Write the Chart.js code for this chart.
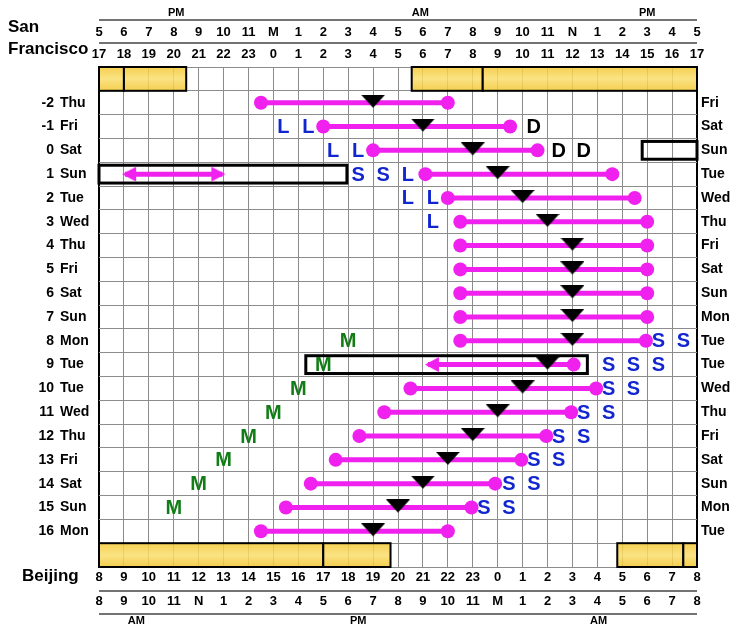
<!DOCTYPE html>
<html>
<head>
<meta charset="utf-8">
<title>Jet lag plan San Francisco - Beijing</title>
<script src="https://cdn.jsdelivr.net/npm/chart.js@4.4.1/dist/chart.umd.min.js"></script>
<style>
  html, body { margin: 0; padding: 0; background: #fff; }
  #wrap { width: 739px; height: 634px; }
</style>
</head>
<body>
<div id="wrap"><canvas id="chart"></canvas></div>
<script>
// x = hours after 5 PM San Francisco (= 8 AM Beijing)
const sfClock12 = ['5','6','7','8','9','10','11','M','1','2','3','4','5','6','7','8','9','10','11','N','1','2','3','4','5'];
const sfClock24 = ['17','18','19','20','21','22','23','0','1','2','3','4','5','6','7','8','9','10','11','12','13','14','15','16','17'];
const bjClock24 = ['8','9','10','11','12','13','14','15','16','17','18','19','20','21','22','23','0','1','2','3','4','5','6','7','8'];
const bjClock12 = ['8','9','10','11','N','1','2','3','4','5','6','7','8','9','10','11','M','1','2','3','4','5','6','7','8'];
const sfHalfDay = ['PM', 'AM', 'PM'];
const sfHalfDayAt = [3.1, 12.9, 22.0];
const bjHalfDay = ['AM', 'PM', 'AM'];
const bjHalfDayAt = [1.5, 10.4, 20.05];

// one row per day
const dayNums = ['-2','-1','0','1','2','3','4','5','6','7','8','9','10','11','12','13','14','15','16'];
const sfDays = ['Thu','Fri','Sat','Sun','Tue','Wed','Thu','Fri','Sat','Sun','Mon','Tue','Tue','Wed','Thu','Fri','Sat','Sun','Mon'];
const bjDays = ['Fri','Sat','Sun','Tue','Wed','Thu','Fri','Sat','Sun','Mon','Tue','Tue','Wed','Thu','Fri','Sat','Sun','Mon','Tue'];
const wakeFrom = [6.5, 9.0, 11.0, 13.1, 14.0, 14.5, 14.5, 14.5, 14.5, 14.5, 14.5, 13.2, 12.5, 11.45, 10.45, 9.5, 8.5, 7.5, 6.5];
const wakeTo = [14.0, 16.5, 17.6, 20.6, 21.5, 22.0, 22.0, 22.0, 22.0, 22.0, 21.95, 19.05, 19.95, 18.95, 17.95, 16.95, 15.9, 14.95, 14.0];
const tempMin = [11, 13, 15, 16, 17, 18, 19, 19, 19, 19, 19, 18, 17, 16, 15, 14, 13, 12, 11];
const shiftedDay = 9;             // that row starts with an arrow, not a dot

// letter marks: [day, hour]
const lightL = [[-1, 7.4], [-1, 8.4], [0, 9.4], [0, 10.4], [1, 12.4], [2, 12.4], [2, 13.4], [3, 13.4]];
const darkD = [[-1, 17.45], [0, 18.45], [0, 19.45]];
const sleepS = [[1, 10.4], [1, 11.4], [8, 22.45], [8, 23.45], [9, 20.45], [9, 21.45], [9, 22.45],
  [10, 20.45], [10, 21.45], [11, 19.45], [11, 20.45], [12, 18.45], [12, 19.45], [13, 17.45], [13, 18.45],
  [14, 16.45], [14, 17.45], [15, 15.45], [15, 16.45]];
const melatoninM = [[8, 10], [9, 9], [10, 8], [11, 7], [12, 6], [13, 5], [14, 4], [15, 3]];

// daylight bands [from, to] and flight boxes [day, from, to]
const sfLight = [[0, 1], [1, 3.5], [12.55, 15.4], [15.4, 24]];
const bjLight = [[0, 9], [9, 11.7], [20.8, 23.45], [23.45, 24]];
const flightBoxes = [[0, 21.8, 24], [1, 0, 9.95], [9, 8.3, 19.6]];
const dateLineArrow = [1, 1.05, 4.95];

const PINK = '#f020ee';
const BLUE = '#1226d0';
const GREEN = '#127c16';
const FONT = '"Liberation Sans", Arial, sans-serif';

const rowOf = d => Number(d) + 3.5;

function makeTriangle() {
  const c = document.createElement('canvas');
  c.width = 24; c.height = 16;
  const g = c.getContext('2d');
  g.fillStyle = '#000';
  g.beginPath(); g.moveTo(0, 0); g.lineTo(24, 0); g.lineTo(12, 13); g.closePath(); g.fill();
  return c;
}

function makeArrowHead(left, len, half) {
  // canvas centre sits 3px behind the tip
  const c = document.createElement('canvas');
  c.width = (len + 3) * 2; c.height = half * 2 + 2;
  const g = c.getContext('2d');
  const cx = len + 3, cy = half + 1;
  g.fillStyle = PINK;
  g.beginPath();
  if (left) {
    g.moveTo(cx - 3, cy); g.lineTo(cx - 3 + len, cy - half); g.lineTo(cx - 3 + len, cy + half);
  } else {
    g.moveTo(cx + 3, cy); g.lineTo(cx + 3 - len, cy - half); g.lineTo(cx + 3 - len, cy + half);
  }
  g.closePath(); g.fill();
  return c;
}

const tri = makeTriangle();
const headL = makeArrowHead(true, 14, 7.5);
const headR = makeArrowHead(false, 14, 7.5);

const datasets = [];
datasets.push({
  label: 'temperature minimum',
  data: tempMin.map((x, i) => ({ x: x, y: rowOf(dayNums[i]) })),
  pointStyle: tri, pointRadius: 8, order: 0
});
dayNums.forEach((d, i) => {
  const arrow = Number(d) === shiftedDay;
  datasets.push({
    label: 'awake ' + d,
    data: [{ x: wakeFrom[i], y: rowOf(d) }, { x: wakeTo[i], y: rowOf(d) }],
    showLine: true,
    borderColor: PINK, borderWidth: 5,
    pointStyle: arrow ? [headL, 'circle'] : 'circle',
    pointRadius: 7, pointBackgroundColor: PINK, pointBorderWidth: 0,
    order: 1
  });
});
datasets.push({
  label: 'date line',
  data: [{ x: dateLineArrow[1], y: rowOf(dateLineArrow[0]) }, { x: dateLineArrow[2], y: rowOf(dateLineArrow[0]) }],
  showLine: true, borderColor: PINK, borderWidth: 5,
  pointStyle: [headL, headR], pointRadius: 7, order: 1
});

function drawMarks(ctx, x, y, list, text, color) {
  ctx.fillStyle = color;
  list.forEach(([d, h]) => ctx.fillText(text, x.getPixelForValue(h), y.getPixelForValue(rowOf(d)) + 1));
}

const overlay = {
  id: 'overlay',
  beforeDatasetsDraw(chart) {
    const { ctx, scales: { x, y } } = chart;
    ctx.save();
    const band = (list, row) => {
      const top = y.getPixelForValue(row), bot = y.getPixelForValue(row + 1);
      list.forEach(([a, b]) => {
        const l = x.getPixelForValue(a), r = x.getPixelForValue(b);
        const grad = ctx.createLinearGradient(0, top, 0, bot);
        grad.addColorStop(0, 'rgba(244,200,50,0.85)');
        grad.addColorStop(0.5, 'rgba(250,222,110,0.85)');
        grad.addColorStop(1, 'rgba(242,198,48,0.85)');
        ctx.fillStyle = grad;
        ctx.fillRect(l, top, r - l, bot - top);
        ctx.strokeStyle = '#000';
        ctx.lineWidth = 2;
        ctx.strokeRect(l, top, r - l, bot - top);
      });
    };
    band(sfLight, 0);
    band(bjLight, 20);
    ctx.strokeStyle = '#000';
    ctx.lineWidth = 3;
    flightBoxes.forEach(([d, a, b]) => {
      const top = y.getPixelForValue(rowOf(d) - 0.5) + 3;
      const bot = y.getPixelForValue(rowOf(d) + 0.5) - 3;
      const l = x.getPixelForValue(a), r = x.getPixelForValue(b);
      ctx.strokeRect(l, top, r - l, bot - top);
    });
    ctx.restore();
  },
  afterDatasetsDraw(chart) {
    const { ctx, scales: { x, y } } = chart;
    ctx.save();
    ctx.font = 'bold 20px ' + FONT;
    ctx.textAlign = 'center';
    ctx.textBaseline = 'middle';
    drawMarks(ctx, x, y, lightL, 'L', BLUE);
    drawMarks(ctx, x, y, darkD, 'D', '#000');
    drawMarks(ctx, x, y, sleepS, 'S', BLUE);
    drawMarks(ctx, x, y, melatoninM, 'M', GREEN);
    ctx.restore();
  },
  afterDraw(chart) {
    const { ctx, chartArea, scales: { x, y } } = chart;
    ctx.save();
    ctx.fillStyle = '#000';
    ctx.textBaseline = 'middle';

    // city names
    ctx.font = 'bold 17px ' + FONT;
    ctx.textAlign = 'left';
    ctx.fillText('San', 8, 27);
    ctx.fillText('Francisco', 8, 49);
    ctx.fillText('Beijing', 22, 576);

    // hour rows
    ctx.font = 'bold 13px ' + FONT;
    ctx.textAlign = 'center';
    for (let i = 0; i <= 24; i++) {
      const px = x.getPixelForValue(i);
      ctx.fillText(sfClock12[i], px, 32);
      ctx.fillText(sfClock24[i], px, 54);
      ctx.fillText(bjClock24[i], px, 577);
      ctx.fillText(bjClock12[i], px, 601);
    }
    ctx.font = 'bold 11px ' + FONT;
    sfHalfDay.forEach((t, i) => ctx.fillText(t, x.getPixelForValue(sfHalfDayAt[i]), 13));
    bjHalfDay.forEach((t, i) => ctx.fillText(t, x.getPixelForValue(bjHalfDayAt[i]), 621));

    ctx.strokeStyle = '#444';
    ctx.lineWidth = 1.5;
    [20, 43, 591, 614].forEach(py => {
      ctx.beginPath();
      ctx.moveTo(chartArea.left, py);
      ctx.lineTo(chartArea.right, py);
      ctx.stroke();
    });

    // day rows
    ctx.font = 'bold 14px ' + FONT;
    dayNums.forEach((d, i) => {
      const py = y.getPixelForValue(rowOf(d));
      ctx.textAlign = 'right';
      ctx.fillText(d, 54, py);
      ctx.textAlign = 'left';
      ctx.fillText(sfDays[i], 60, py);
      ctx.fillText(bjDays[i], chartArea.right + 4, py);
    });
    ctx.restore();
  }
};

new Chart(document.getElementById('chart'), {
  type: 'scatter',
  data: { datasets: datasets },
  options: {
    responsive: true,
    maintainAspectRatio: false,
    animation: false,
    events: [],
    layout: { padding: { left: 99, right: 42, top: 67, bottom: 67 } },
    plugins: { legend: { display: false }, tooltip: { enabled: false } },
    scales: {
      x: {
        type: 'linear', min: 0, max: 24,
        ticks: { display: false, stepSize: 1 },
        border: { display: false },
        grid: {
          drawTicks: false,
          color: c => (c.tick.value === 0 || c.tick.value === 24) ? '#000' : '#8c8c8c',
          lineWidth: c => (c.tick.value === 0 || c.tick.value === 24) ? 2 : 1
        }
      },
      y: {
        type: 'linear', min: 0, max: 21, reverse: true,
        ticks: { display: false, stepSize: 1 },
        border: { display: false },
        grid: { drawTicks: false, color: '#8c8c8c', lineWidth: 1 }
      }
    }
  },
  plugins: [overlay]
});
</script>
</body>
</html>
